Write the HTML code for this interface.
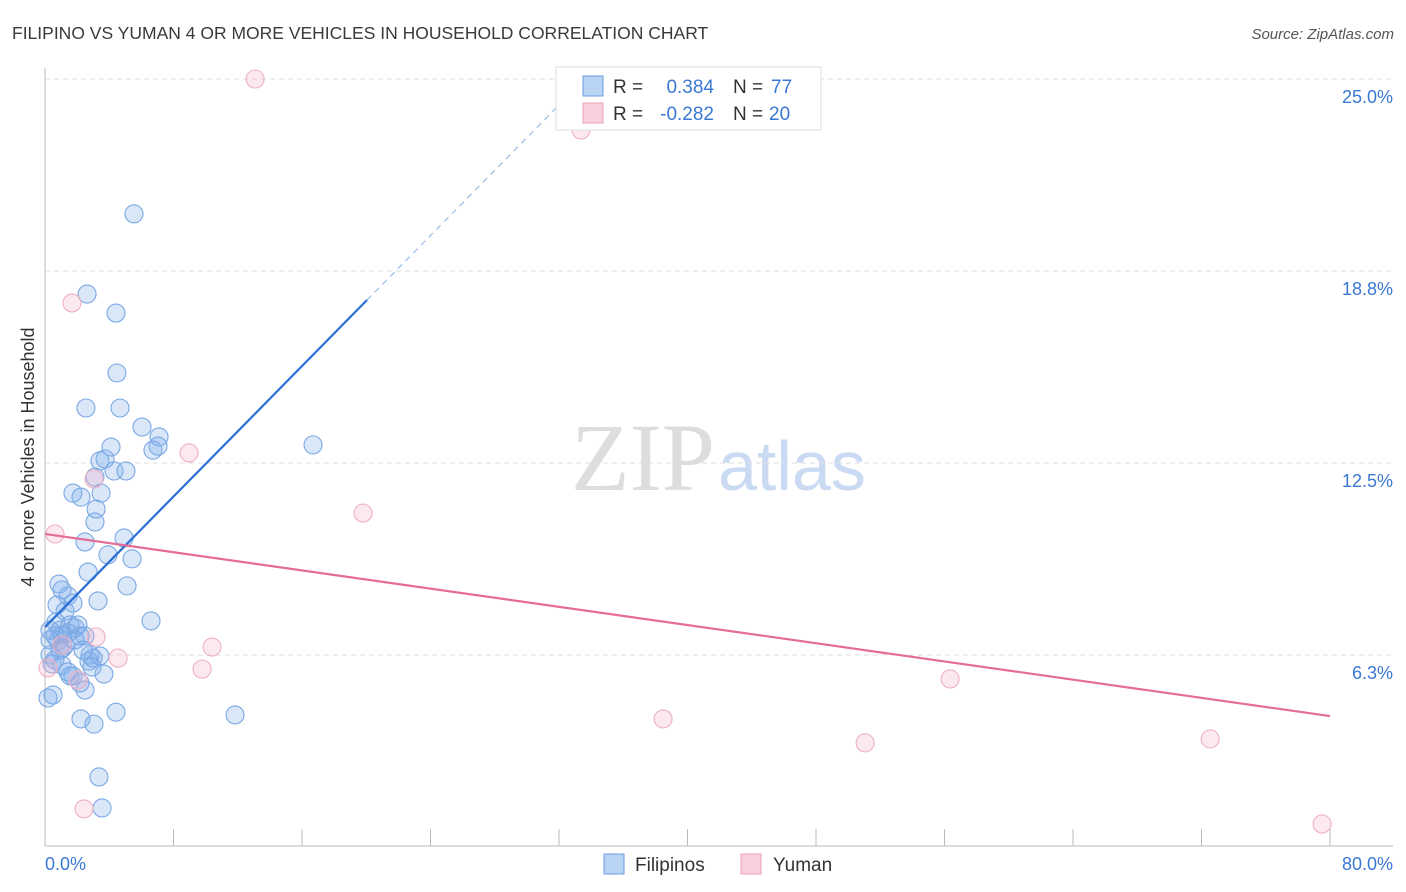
<!DOCTYPE html>
<html><head><meta charset="utf-8"><style>
body{margin:0;background:#fff;font-family:"Liberation Sans",sans-serif;}
svg{display:block}
</style></head><body>
<svg width="1406" height="892" xmlns="http://www.w3.org/2000/svg">
<text x="12" y="39" font-size="17.5" fill="#3a3a3a">FILIPINO VS YUMAN 4 OR MORE VEHICLES IN HOUSEHOLD CORRELATION CHART</text>
<text x="1394" y="39" font-size="15" fill="#555" font-style="italic" text-anchor="end">Source: ZipAtlas.com</text>
<text x="715" y="490" font-size="96" fill="#ddd" font-family="Liberation Serif,serif" text-anchor="end">ZIP</text>
<text x="718" y="490" font-size="70" fill="#c9daf2">atlas</text>
<g id="grid"></g>
<line x1="45" y1="68" x2="45" y2="846" stroke="#bbb"/>
<line x1="45" y1="846" x2="1393" y2="846" stroke="#bbb"/>
<g id="xticks"></g>
<text x="45" y="870" font-size="18" fill="#3a78d4">0.0%</text>
<text x="1393" y="870" font-size="18" fill="#3a78d4" text-anchor="end">80.0%</text>
<text transform="translate(34,457) rotate(-90)" font-size="18" fill="#333" text-anchor="middle">4 or more Vehicles in Household</text>
<g id="pts"></g>
<g id="trend"></g>
<g>
<rect x="556" y="67" width="265" height="63" fill="#fff" stroke="#ddd"/>
<rect x="583" y="76" width="20" height="20" fill="#b9d3f5" stroke="#6a9ee0"/>
<text x="613" y="93" font-size="19" fill="#333">R =</text>
<text x="714" y="93" font-size="19" fill="#3a78d4" text-anchor="end">0.384</text>
<text x="733" y="93" font-size="19" fill="#333">N =</text>
<text x="771" y="93" font-size="19" fill="#3a78d4">77</text>
<rect x="583" y="103" width="20" height="20" fill="#f9cfdc" stroke="#e8a0b8"/>
<text x="613" y="120" font-size="19" fill="#333">R =</text>
<text x="714" y="120" font-size="19" fill="#3a78d4" text-anchor="end">-0.282</text>
<text x="733" y="120" font-size="19" fill="#333">N =</text>
<text x="769" y="120" font-size="19" fill="#3a78d4">20</text>
</g>
<g>
<rect x="604" y="854" width="20" height="20" fill="#b9d3f5" stroke="#6a9ee0"/>
<text x="635" y="871" font-size="19" fill="#333">Filipinos</text>
<rect x="741" y="854" width="20" height="20" fill="#f9cfdc" stroke="#e8a0b8"/>
<text x="773" y="871" font-size="19" fill="#333">Yuman</text>
</g>
</svg>
<script>
const yTicks=[6.25,12.5,18.75,25];
const yTickLabels=["6.3%","12.5%","18.8%","25.0%"];
const xTicks=[0,8,16,24,32,40,48,56,64,72,80];
const blueX=[5.54,2.62,4.42,4.48,2.55,4.67,16.69,6.04,7.10,6.72,7.04,4.11,3.42,3.74,4.30,5.04,3.11,1.74,2.24,3.49,3.18,3.11,2.49,4.92,3.92,5.42,2.68,0.87,5.11,1.06,1.43,1.74,3.30,1.25,6.60,0.68,0.93,1.56,1.87,0.62,1.06,2.18,1.43,2.49,0.81,1.25,0.31,1.12,2.80,3.42,2.99,2.74,0.31,0.44,1.06,2.93,1.74,3.67,2.18,1.56,2.49,0.50,0.19,4.42,2.24,3.05,11.83,3.36,3.55,0.31,0.62,1.87,0.93,1.43,2.37,0.75,2.05];
const blueY=[20.61,18.0,17.38,15.43,14.29,14.29,13.09,13.67,13.35,12.92,13.05,13.02,12.57,12.63,12.24,12.24,12.04,11.52,11.39,11.52,11.0,10.58,9.93,10.06,9.51,9.38,8.95,8.56,8.50,8.37,8.17,7.94,8.01,7.68,7.36,7.32,7.06,7.23,7.13,6.87,6.90,6.87,6.97,6.87,6.71,6.58,6.74,6.48,6.25,6.22,6.15,6.05,6.25,5.96,5.92,5.86,5.57,5.63,5.34,5.57,5.11,4.95,4.85,4.39,4.17,4.00,4.30,2.28,1.27,7.06,6.09,6.74,6.41,5.70,6.41,7.88,7.23];
const pinkX=[13.08,33.37,1.68,8.97,3.05,19.80,0.62,3.18,10.40,4.55,9.78,0.19,56.35,38.48,51.06,72.54,2.43,79.51,1.06,2.05];
const pinkY=[25.0,23.34,17.71,12.83,11.98,10.87,10.19,6.84,6.51,6.15,5.79,5.83,5.47,4.17,3.39,3.52,1.24,0.75,6.58,5.44];
const blueTrend=[7.16,0.531];
const pinkTrend=[10.19,-0.0741];
const NS="http://www.w3.org/2000/svg";
const sx=v=>45+v*(1285/80);
const sy=v=>847-v*30.72;
function mk(tag,parent,attrs){const e=document.createElementNS(NS,tag);for(const k in attrs)e.setAttribute(k,attrs[k]);document.getElementById(parent).appendChild(e);return e;}
yTicks.forEach((t,i)=>{
 const l=mk('line','grid',{x1:45,x2:1393,y1:sy(t),y2:sy(t),stroke:'#ddd','stroke-dasharray':'5,4'});
 
 
 const tx=mk('text','grid',{x:1393,y:sy(t)+24,'font-size':18,fill:'#3a78d4','text-anchor':'end'});
 tx.textContent=yTickLabels[i];
 
 
});
xTicks.forEach(t=>{
 const l=mk('line','xticks',{x1:sx(t),x2:sx(t),y1:846,y2:829,stroke:'#bbb'});
 
 
});
blueX.forEach((x,i)=>{
 const c=mk('circle','pts',{cx:sx(x),cy:sy(blueY[i]),r:9,fill:'rgba(130,175,235,0.3)',stroke:'#7aa8e4','stroke-width':1.1});
 
 
});
pinkX.forEach((x,i)=>{
 const c=mk('circle','pts',{cx:sx(x),cy:sy(pinkY[i]),r:9,fill:'rgba(245,175,198,0.28)',stroke:'#eeb0c4','stroke-width':1.1});
 
 
});
const bx2=20.05, bxEnd=(25-blueTrend[0])/blueTrend[1];
let t1=mk('line','trend',{x1:sx(0),y1:sy(blueTrend[0]),x2:sx(bx2),y2:sy(blueTrend[0]+blueTrend[1]*bx2),stroke:'#2a6fd6','stroke-width':2.2});


let t2=mk('line','trend',{x1:sx(bx2),y1:sy(blueTrend[0]+blueTrend[1]*bx2),x2:sx(bxEnd),y2:sy(25),stroke:'#9bbbe6','stroke-width':1.2,'stroke-dasharray':'6,5'});


let t3=mk('line','trend',{x1:sx(0),y1:sy(pinkTrend[0]),x2:sx(80),y2:sy(pinkTrend[0]+pinkTrend[1]*80),stroke:'#e56c96','stroke-width':2.2});


</script>
</body></html>
